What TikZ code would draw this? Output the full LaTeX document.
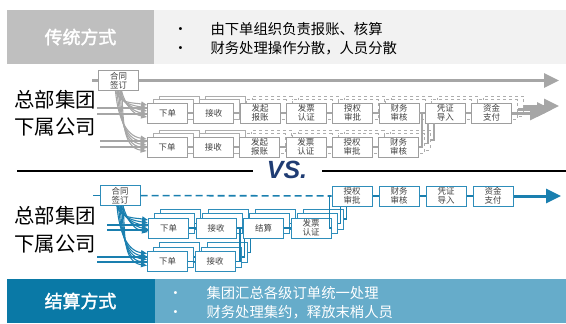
\documentclass[tikz,border=0pt]{standalone}
\usepackage{fontspec}
\setmainfont{Noto Sans CJK SC}
\newfontfamily\boldcjk[FakeBold=2]{Noto Sans CJK SC}
\newfontfamily\vsfont{Liberation Sans}
\usetikzlibrary{calc,arrows.meta,positioning}

\definecolor{lgray}{HTML}{A6A6A6}
\definecolor{bgray}{HTML}{9E9E9E}
\definecolor{tgray}{HTML}{404040}
\definecolor{bangray}{HTML}{BFBFBF}
\definecolor{panegray}{HTML}{F2F2F2}
\definecolor{banblue}{HTML}{0A79A6}
\definecolor{paneblue}{HTML}{66ACCA}
\definecolor{boxblue}{HTML}{2E8DBA}
\definecolor{lblue}{HTML}{1A7FAF}
\definecolor{vsblue}{HTML}{1F3C73}

\tikzset{
	every node/.style={font=\fontsize{8.5}{9.5}\selectfont, text=tgray},
	gbox/.style={rectangle, draw=bgray, fill=white, line width=0.8bp, minimum width=40bp, minimum height=20bp, inner sep=0pt, align=center},
	bbox/.style={gbox, draw=boxblue, line width=1bp},
	front/.style={},
	gback/.style={draw=bgray!85},
	gback dash/.style={draw=bgray!85, dashed},
	gline/.style={draw=lgray, line width=1.6bp},
	bline/.style={draw=lblue, line width=1.6bp},
	gcurve/.style={draw=lgray, line width=1.1bp, -{Triangle[length=6bp,width=5bp]}},
	bcurve/.style={draw=lblue, line width=1.1bp, -{Triangle[length=6bp,width=5bp]}},
	big arrow/.style={line width=3bp, -{Triangle[length=15bp,width=14bp]}},
	side label/.style={font=\fontsize{20.5}{22}\selectfont, text=black},
	banner/.style={font=\boldcjk\fontsize{18}{20}\selectfont, text=white},
	notes/.style={anchor=west, align=left, font=\fontsize{14.4}{19}\selectfont}
}

\begin{document}
\begin{tikzpicture}[x=1bp, y=1bp]
	\useasboundingbox (0,0) rectangle (566,-323);

	% banners
	\fill[bangray] (7,-10) rectangle (154,-64);
	\fill[panegray] (154,-10) rectangle (566,-64);
	\node[banner] (trad) at (80.5,-37) {传统方式};
	\node[notes, text=black] (tradnote) at (172,-38.5) {%
		\makebox[10bp]{•}\hspace{25bp}由下单组织负责报账、核算\\
		\makebox[10bp]{•}\hspace{25bp}财务处理操作分散，人员分散};

	\fill[banblue] (7,-279) rectangle (155,-323);
	\fill[paneblue] (155,-279) rectangle (566,-323);
	\node[banner] (settle) at (80.5,-301) {结算方式};
	\node[notes, text=white] (settlenote) at (167,-302.5) {%
		\makebox[10bp]{•}\hspace{26bp}集团汇总各级订单统一处理\\
		\makebox[10bp]{•}\hspace{26bp}财务处理集约，释放末梢人员};

	% side labels
	\node[side label] (hq1) at (55,-100) {总部集团};
	\node[side label] (sub1) at (55,-127) {下属公司};
	\node[side label] (hq2) at (55,-216) {总部集团};
	\node[side label] (sub2) at (55,-244) {下属公司};

	% divider
	\coordinate (d1) at (17,-171);
	\coordinate (d2) at (253,-171);
	\coordinate (d3) at (322,-171);
	\coordinate (d4) at (566,-171);
	\draw[line width=2bp] (d1) -- (d2);
	\draw[line width=2bp] (d3) -- (d4);
	\node[font=\vsfont\bfseries\itshape\fontsize{25}{25}\selectfont, text=vsblue] (vs) at (287,-170) {VS.};

	% ---------- traditional ----------
	\node[gbox] (gHT) at (118.5,-80.5) {合同\\签订};
	\coordinate (gIn) at (92,-80.5);
	\coordinate (gOut) at (559,-80.5);
	\draw[gline, line width=3bp] (gIn) -- (gHT);
	\draw[gline, big arrow] (gHT) -- (gOut);

	% upper row
	\foreach \l/\dx/\dy in {2/12/7, 1/6/3.5, 0/0/0} {
		\foreach \t [count=\i, remember=\i as \j (initially 0)] in {下单,接收,发起\\报账,发票\\认证,授权\\审批,财务\\审核,凭证\\导入,资金\\支付} {
			\ifnum\l>0 \def\lab{}\ifnum\i>2 \def\look{gback dash}\else\def\look{gback}\fi \else\let\lab\t\def\look{front}\fi
			\ifnum\i=1
				\node[gbox, \look] (gA\l-\i) at (167.5+\dx,-113+\dy) {\lab};
			\else
				\node[gbox, \look, right=5.5bp of gA\l-\j] (gA\l-\i) {\lab};
				\draw[gline] (gA\l-\j) -- (gA\l-\i);
			\fi
		}
		\coordinate (gEnd\l) at (545+7*\l,-113+\dy);
		\draw[gline, big arrow] (gA\l-8) -- (gEnd\l);
	}

	% lower row
	\foreach \l/\dx/\dy in {2/12/7, 1/6/3.5, 0/0/0} {
		\foreach \t [count=\i, remember=\i as \j (initially 0)] in {下单,接收,发起\\报账,发票\\认证,授权\\审批,财务\\审核} {
			\ifnum\l>0 \def\lab{}\ifnum\i>2 \def\look{gback dash}\else\def\look{gback}\fi \else\let\lab\t\def\look{front}\fi
			\ifnum\i=1
				\node[gbox, \look] (gB\l-\i) at (167+\dx,-147+\dy) {\lab};
			\else
				\node[gbox, \look, right=5.5bp of gB\l-\j] (gB\l-\i) {\lab};
				\draw[gline] (gB\l-\j) -- (gB\l-\i);
			\fi
		}
		\ifnum\l=0
			\draw[gline] (gB0-6) -| ($(gA0-6.east)!.5!(gA0-7.west)$);
		\else
			\draw[gline] (gB\l-6.east) -| ([xshift=3bp]gB\l-6.east |- gA0-7.south);
		\fi
	}

	% incoming lines
	\coordinate (gL1) at (97,-108);
	\coordinate (gL2) at (97,-114);
	\coordinate (gL3) at (100,-141);
	\coordinate (gL4) at (100,-147);
	\draw[gline, line width=1.2bp] (gL1) -- (gL1 -| gA0-1.west);
	\draw[gline, line width=1.2bp] (gL2) -- (gL2 -| gA0-1.west);
	\draw[gline, line width=1.2bp] (gL3) -- (gL3 -| gB0-1.west);
	\draw[gline, line width=1.2bp] (gL4) -- (gL4 -| gB0-1.west);

	% fan out
	\foreach \s/\e in {-3/8, -1.5/5, 0/2, 1.5/-1, 3/-4} {
		\draw[gcurve] ([xshift=\s bp]gHT.south) to[out=-75, in=170] ([yshift=\e bp]gA0-1.west);
		\draw[gcurve] ([xshift=\s bp]gHT.south) to[out=-85, in=172] ([yshift=\e bp]gB0-1.west);
	}

	% ---------- settlement ----------
	\node[bbox] (bHT) at (120,-195.5) {合同\\签订};
	\coordinate (bIn) at (93,-195.5);
	\draw[bline] (bIn) -- (bHT);

	\node[bbox] (bAuth) at (352,-196) {授权\\审批};
	\node[bbox, right=6bp of bAuth] (bCheck) {财务\\审核};
	\node[bbox, right=6bp of bCheck] (bImport) {凭证\\导入};
	\node[bbox, right=6bp of bImport] (bPay) {资金\\支付};
	\coordinate (bEnd) at (561,-196);
	\draw[bline, dashed, dash pattern=on 7bp off 4bp] (bHT) -- (bAuth);
	\draw[bline] (bAuth) -- (bCheck);
	\draw[bline] (bCheck) -- (bImport);
	\draw[bline] (bImport) -- (bPay);
	\draw[bline, big arrow] (bPay) -- (bEnd);

	% upper row
	\foreach \l/\dx/\dy in {2/12/9, 1/6/4.5, 0/0/0} {
		\foreach \t [count=\i, remember=\i as \j (initially 0)] in {下单,接收,结算,发票\\认证} {
			\ifnum\l>0 \def\lab{}\else\let\lab\t\fi
			\ifnum\i=1
				\node[bbox] (bA\l-\i) at (168.5+\dx,-228+\dy) {\lab};
			\else
				\node[bbox, right=6.5bp of bA\l-\j] (bA\l-\i) {\lab};
				\draw[bline] (bA\l-\j) -- (bA\l-\i);
			\fi
		}
		\ifnum\l=0
			\draw[bline] (bA0-4) -| ([xshift=-2bp]bAuth.west);
		\else
			\draw[bline] (bA\l-4.east) -| ([xshift=3bp]bA\l-4.east |- bAuth.south);
		\fi
	}

	% lower row
	\foreach \l/\dx/\dy in {2/12/9, 1/6/4.5, 0/0/0} {
		\foreach \t [count=\i, remember=\i as \j (initially 0)] in {下单,接收} {
			\ifnum\l>0 \def\lab{}\else\let\lab\t\fi
			\ifnum\i=1
				\node[bbox] (bB\l-\i) at (167.5+\dx,-261.5+\dy) {\lab};
			\else
				\node[bbox, right=6.5bp of bB\l-\j] (bB\l-\i) {\lab};
				\draw[bline] (bB\l-\j) -- (bB\l-\i);
			\fi
		}
		\ifnum\l=0
			\draw[bline] (bB0-2) -| ($(bA0-2.east)!.5!(bA0-3.west)$);
		\else
			\draw[bline] (bB\l-2.east) -| ([xshift=3bp]bB\l-2.east |- bA0-3.south);
		\fi
	}

	% incoming lines
	\coordinate (bL1) at (107,-225);
	\coordinate (bL2) at (107,-230);
	\coordinate (bL3) at (97,-257);
	\coordinate (bL4) at (97,-262);
	\draw[bline, line width=1.2bp] (bL1) -- (bL1 -| bA0-1.west);
	\draw[bline, line width=1.2bp] (bL2) -- (bL2 -| bA0-1.west);
	\draw[bline, line width=1.2bp] (bL3) -- (bL3 -| bB0-1.west);
	\draw[bline, line width=1.2bp] (bL4) -- (bL4 -| bB0-1.west);

	% fan out
	\foreach \s/\e in {-3/8, -1.5/5, 0/2, 1.5/-1, 3/-4} {
		\draw[bcurve] ([xshift=\s bp]bHT.south) to[out=-75, in=170] ([yshift=\e bp]bA0-1.west);
		\draw[bcurve] ([xshift=\s bp]bHT.south) to[out=-85, in=172] ([yshift=\e bp]bB0-1.west);
	}
\end{tikzpicture}
\end{document}
